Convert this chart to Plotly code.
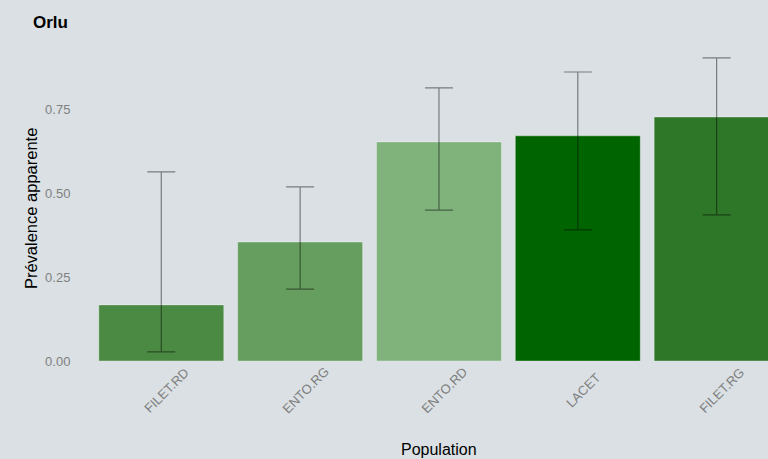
import plotly.graph_objects as go

categories = ["FILET.RD", "ENTO.RG", "ENTO.RD", "LACET", "FILET.RG"]
prevalence = [0.167, 0.354, 0.652, 0.670, 0.726]
ci_low = [0.027, 0.214, 0.449, 0.390, 0.435]
ci_high = [0.563, 0.518, 0.813, 0.860, 0.902]
colors = ["#4a8a42", "#659e5e", "#80b27c", "#006400", "#2e7628"]
y_ticks = [0, 0.25, 0.5, 0.75]
y_tick_labels = ["0.00", "0.25", "0.50", "0.75"]

err_plus = [h - p for h, p in zip(ci_high, prevalence)]
err_minus = [p - l for p, l in zip(prevalence, ci_low)]

BG = "#dae0e3"
FONT = "Liberation Sans, Arial"

fig = go.Figure(go.Bar(
    x=categories, y=prevalence,
    marker=dict(color=colors, line=dict(color="rgba(255,255,255,0.35)", width=1)),
    width=0.9,
    error_y=dict(type="data", symmetric=False, array=err_plus, arrayminus=err_minus,
                 color="rgba(0,0,0,0.45)", thickness=1.2, width=14),
))

# rotated category labels, centred under each bar (ggplot-like)
annotations = [
    dict(text=c, x=c, xref="x", y=0, yref="paper", xanchor="center", yanchor="middle",
         xshift=5, yshift=-29, textangle=-45, showarrow=False,
         font=dict(family=FONT, size=13, color="#7f7f7f"))
    for c in categories
]
annotations.append(dict(text="Population", x=0.523, xref="paper", y=0, yref="paper",
                        xanchor="center", yanchor="middle", yshift=-88, showarrow=False,
                        font=dict(family=FONT, size=16, color="black")))
annotations.append(dict(text="Prévalence apparente", x=0, xref="paper", y=0.459, yref="paper",
                        xanchor="center", yanchor="middle", xshift=-47, textangle=-90,
                        showarrow=False, font=dict(family=FONT, size=16.5, color="black")))

fig.update_layout(
    width=768, height=459,
    paper_bgcolor=BG, plot_bgcolor=BG,
    margin=dict(l=78, r=0, t=30, b=98, autoexpand=False),
    title=dict(text="<b>Orlu</b>", x=0.043, xanchor="left", y=0.953, yanchor="middle",
               font=dict(family=FONT, size=17, color="black")),
    font=dict(family=FONT),
    showlegend=False,
    bargap=0.1,
    annotations=annotations,
)
fig.update_xaxes(
    range=[-0.6, 4.37], showgrid=False, zeroline=False, showline=False,
    showticklabels=False, ticks="", automargin=False,
)
fig.update_yaxes(
    range=[0, 0.985], tickvals=y_ticks, ticktext=y_tick_labels,
    showgrid=False, zeroline=False, showline=False,
    tickfont=dict(size=13, color="#7f7f7f"),
    ticks="outside", ticklen=4, tickcolor=BG,
    automargin=False,
)

fig.write_html("out.html", config={"displayModeBar": False})

with open("out.html", "r", encoding="utf-8") as f:
    html = f.read()
html = html.replace("<head>", "<head><style>html,body{margin:0;padding:0;overflow:hidden;}</style>", 1)
with open("out.html", "w", encoding="utf-8") as f:
    f.write(html)
